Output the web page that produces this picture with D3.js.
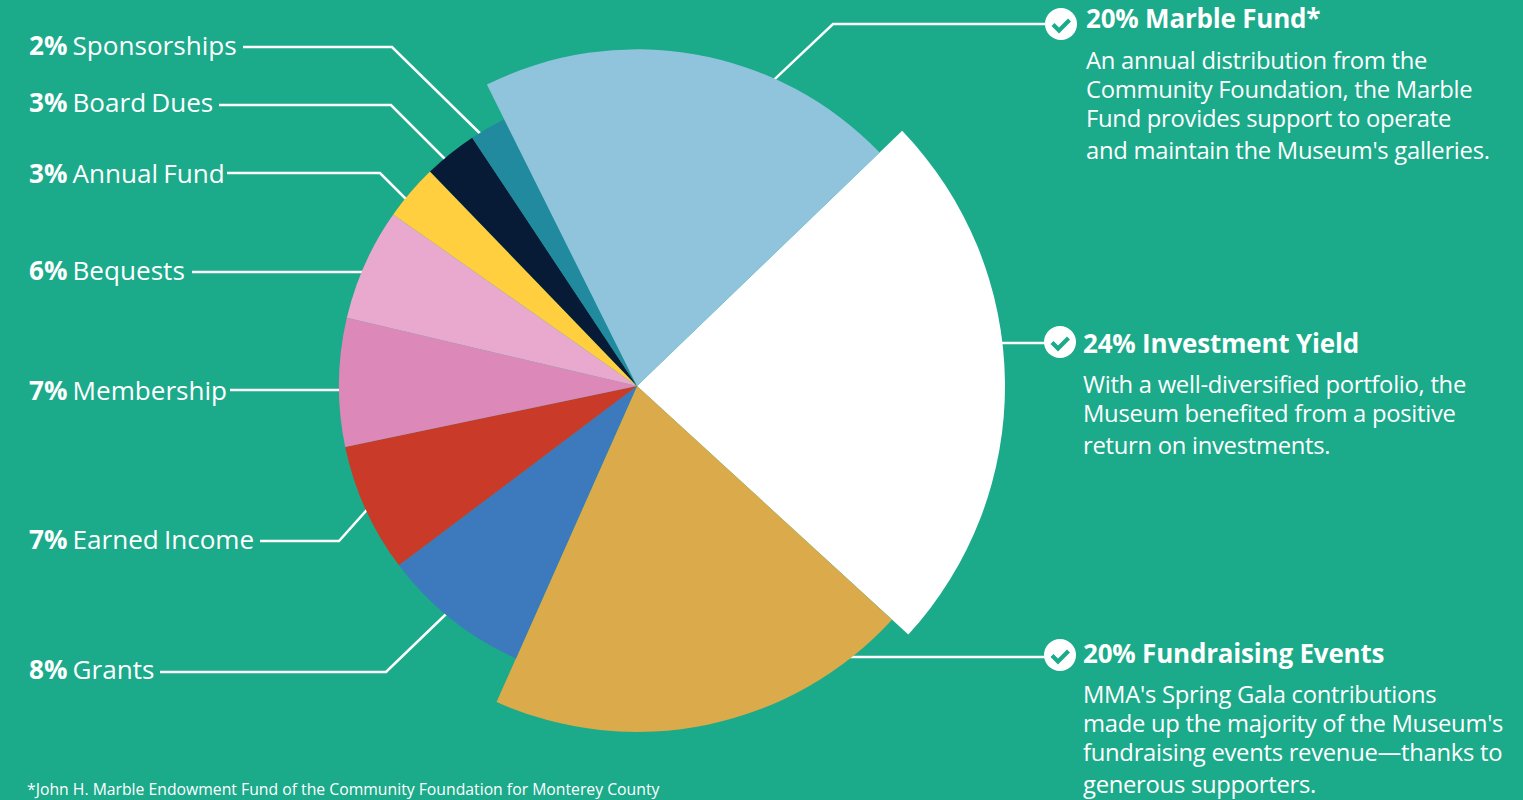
<!DOCTYPE html>
<html>
<head>
<meta charset="utf-8">
<script src="https://cdn.jsdelivr.net/npm/d3@7"></script>
<style>
  html, body { margin: 0; padding: 0; background: #1baa8a; overflow: hidden; }
  svg { display: block; }
  text { font-family: "Open Sans", sans-serif; fill: #fff; }
</style>
</head>
<body>
<svg width="1523" height="800"></svg>
<script>
// ~~~~~~~~data, clockwise from the white slice~~~~~~~~~~~~~
var categories = ["Investment Yield", "Fundraising Events", "Grants", "Earned Income", "Membership", "Bequests", "Annual Fund", "Board Dues", "Sponsorships", "Marble Fund*"];
var shownPercent = [24, 20, 8, 7, 7, 6, 3, 3, 2, 20];
// slice sweep (the printed percents are rounded)
var sweep = [24, 19.85, 8.07, 7, 6.95, 6.08, 3.03, 2.89, 1.97, 20.16];
// how far each slice reaches out, white slice = 1
var reach = [1, 0.94, 0.81, 0.81, 0.81, 0.81, 0.81, 0.81, 0.81, 0.915];
var sliceColors = ["#ffffff", "#dbaa4b", "#3d7abd", "#c93a28", "#dc88b8", "#e9a8cd", "#ffcf40", "#081b36", "#218a9e", "#90c4dd"];

var footnote = "*John H. Marble Endowment Fund of the Community Foundation for Monterey County";
var marbleBody = ["An annual distribution from the", "Community Foundation, the Marble", "Fund provides support to operate", "and maintain the Museum's galleries."];
var investmentBody = ["With a well-diversified portfolio, the", "Museum benefited from a positive", "return on investments."];
var eventsBody = ["MMA's Spring Gala contributions", "made up the majority of the Museum's", "fundraising events revenue\u2014thanks to", "generous supporters."];

var svg = d3.select("svg");
var cx = 637, cy = 386;

var radius = d3.scaleLinear().domain([0, 1]).range([0, 368]);

var pie = d3.pie()
  .sort(null)
  .value(function (d) { return d; })
  .startAngle(46.1 * Math.PI / 180)
  .endAngle((46.1 + 360) * Math.PI / 180);

var arc = d3.arc()
  .innerRadius(0)
  .outerRadius(function (d) { return radius(reach[d.index]); });

// ~~~~~~~~leader lines, drawn under the pie so they stop at its edge~~~~~~~~
var leaders = [
  [[1045, 24], [833, 24], [760, 93]],
  [[1045, 343], [960, 343]],
  [[1045, 657], [820, 657]],
  [[160, 672], [386, 672], [470, 591]],
  [[260, 541], [339, 541], [390, 484]],
  [[230, 390], [400, 390]],
  [[192, 272], [400, 272]],
  [[227, 173], [380, 173], [430, 223]],
  [[219, 105], [391, 105], [470, 184]],
  [[243, 47], [392, 47], [500, 153]]
];

svg.append("g").selectAll("path")
  .data(leaders)
  .enter()
  .append("path")
  .attr("d", d3.line())
  .attr("fill", "none")
  .attr("stroke", "#fff")
  .attr("stroke-width", 2.5);

svg.append("g")
  .attr("transform", "translate(" + cx + "," + cy + ")")
  .selectAll("path")
  .data(pie(sweep))
  .enter()
  .append("path")
  .attr("d", arc)
  .attr("fill", function (d, i) { return sliceColors[i]; });

// ~~~~~~~~left labels~~~~~~~~
var leftBaselines = { "Sponsorships": 55, "Board Dues": 112, "Annual Fund": 183, "Bequests": 280, "Membership": 400, "Earned Income": 549, "Grants": 679 };

Object.keys(leftBaselines).forEach(function (name) {
  var t = svg.append("text")
    .attr("x", 29)
    .attr("y", leftBaselines[name])
    .attr("font-size", 26.1)
    .attr("word-spacing", -1.7);
  t.append("tspan").attr("font-weight", 700).text(shownPercent[categories.indexOf(name)] + "%");
  t.append("tspan").text(" " + name);
});

// ~~~~~~~~right callouts~~~~~~~~
function callout(name, body, iconX, iconY, textX, headY, bodyYs) {
  svg.append("circle").attr("cx", iconX).attr("cy", iconY).attr("r", 16).attr("fill", "#fff");
  svg.append("path")
    .attr("d", "M" + (iconX - 8) + "," + (iconY + 0.5) + "l6,6l10.5,-10.5")
    .attr("fill", "none")
    .attr("stroke", "#1baa8a")
    .attr("stroke-width", 4.2);

  svg.append("text")
    .attr("x", textX)
    .attr("y", headY)
    .attr("font-size", 26)
    .attr("font-weight", 700)
    .attr("letter-spacing", -0.2)
    .text(shownPercent[categories.indexOf(name)] + "% " + name);

  body.forEach(function (line, i) {
    svg.append("text")
      .attr("x", textX)
      .attr("y", bodyYs[i])
      .attr("font-size", 23.8)
      .attr("letter-spacing", -0.28)
      .text(line);
  });
}

callout("Marble Fund*", marbleBody, 1061, 24, 1086, 28, [69, 98, 127, 159]);
callout("Investment Yield", investmentBody, 1060, 342, 1083, 353, [393, 422, 454]);
callout("Fundraising Events", eventsBody, 1060, 655, 1083, 663, [703, 732, 761, 793]);

svg.append("text")
  .attr("x", 27)
  .attr("y", 795)
  .attr("font-size", 15.75)
  .text(footnote);
</script>
</body>
</html>
